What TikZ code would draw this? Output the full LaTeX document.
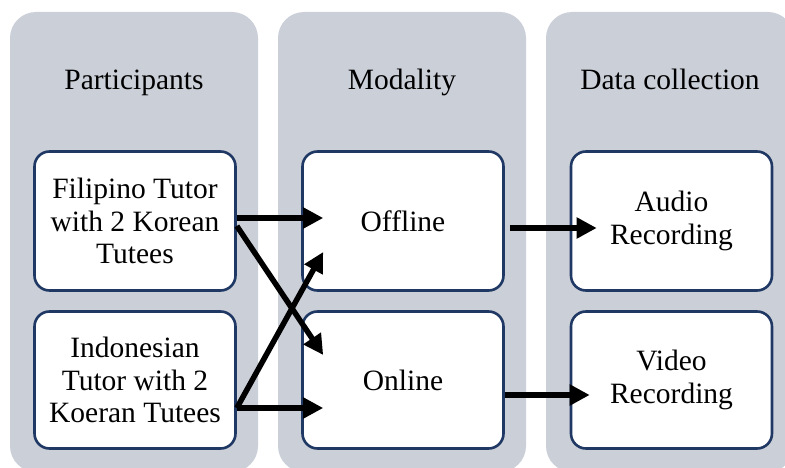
\documentclass[tikz,border=0pt]{standalone}
\usepackage{fontspec}
\setmainfont{Liberation Serif}
\usetikzlibrary{arrows.meta}
\definecolor{colgray}{RGB}{203,207,216}
\definecolor{boxblue}{RGB}{31,56,100}
\tikzset{
  column/.style={fill=colgray, rounded corners=26pt, minimum width=248pt, minimum height=460pt, inner sep=0pt},
  heading/.style={font=\fontsize{29.5}{33}\selectfont, inner sep=0pt, anchor=base},
  itembox/.style={draw=boxblue, line width=2.6pt, fill=white, rounded corners=15pt, minimum width=201pt, align=center, font=\fontsize{29.5}{32.5}\selectfont, inner sep=0pt},
  flow/.style={line width=5.5pt, -{Triangle[length=20pt,width=20pt]}}
}
\begin{document}
\begin{tikzpicture}[x=1pt,y=-1pt]
\useasboundingbox (0,0) rectangle (785,468);
\clip (0,0) rectangle (785,468);
\node[column] (col1) at (134,242) {};
\node[column] (col2) at (402,242) {};
\node[column] (col3) at (670,242) {};
\node[heading] (h1) at (134,90) {Participants};
\node[heading] (h2) at (402,90) {Modality};
\node[heading] (h3) at (670,90) {Data collection};
\node[itembox, minimum height=139pt] (fil) at (135,221) {Filipino Tutor\\with 2 Korean\\Tutees};
\node[itembox, minimum height=139pt] (off) at (403,221) {Offline};
\node[itembox, minimum height=139pt] (aud) at (671.5,221) {Audio\\Recording};
\node[itembox, minimum height=137pt] (ind) at (135,380) {Indonesian\\Tutor with 2\\Koeran Tutees};
\node[itembox, minimum height=137pt] (onl) at (403,380) {Online};
\node[itembox, minimum height=137pt] (vid) at (671.5,380) {Video\\Recording};
\draw[flow] ([yshift=3pt]fil.east) -- ([xshift=22pt,yshift=3pt]off.west);
\draw[flow] ([yshift=-5pt]fil.east) -- ([xshift=22pt,yshift=25pt]onl.west);
\draw[flow] ([yshift=-28pt]ind.east) -- ([xshift=22pt,yshift=-31pt]off.west);
\draw[flow] ([yshift=-28pt]ind.east) -- ([xshift=22pt,yshift=-28pt]onl.west);
\draw[flow] ([xshift=5pt,yshift=-7pt]off.east) -- ([xshift=27pt,yshift=-7pt]aud.west);
\draw[flow] ([yshift=-15pt]onl.east) -- ([xshift=20pt,yshift=-15pt]vid.west);
\end{tikzpicture}
\end{document}
